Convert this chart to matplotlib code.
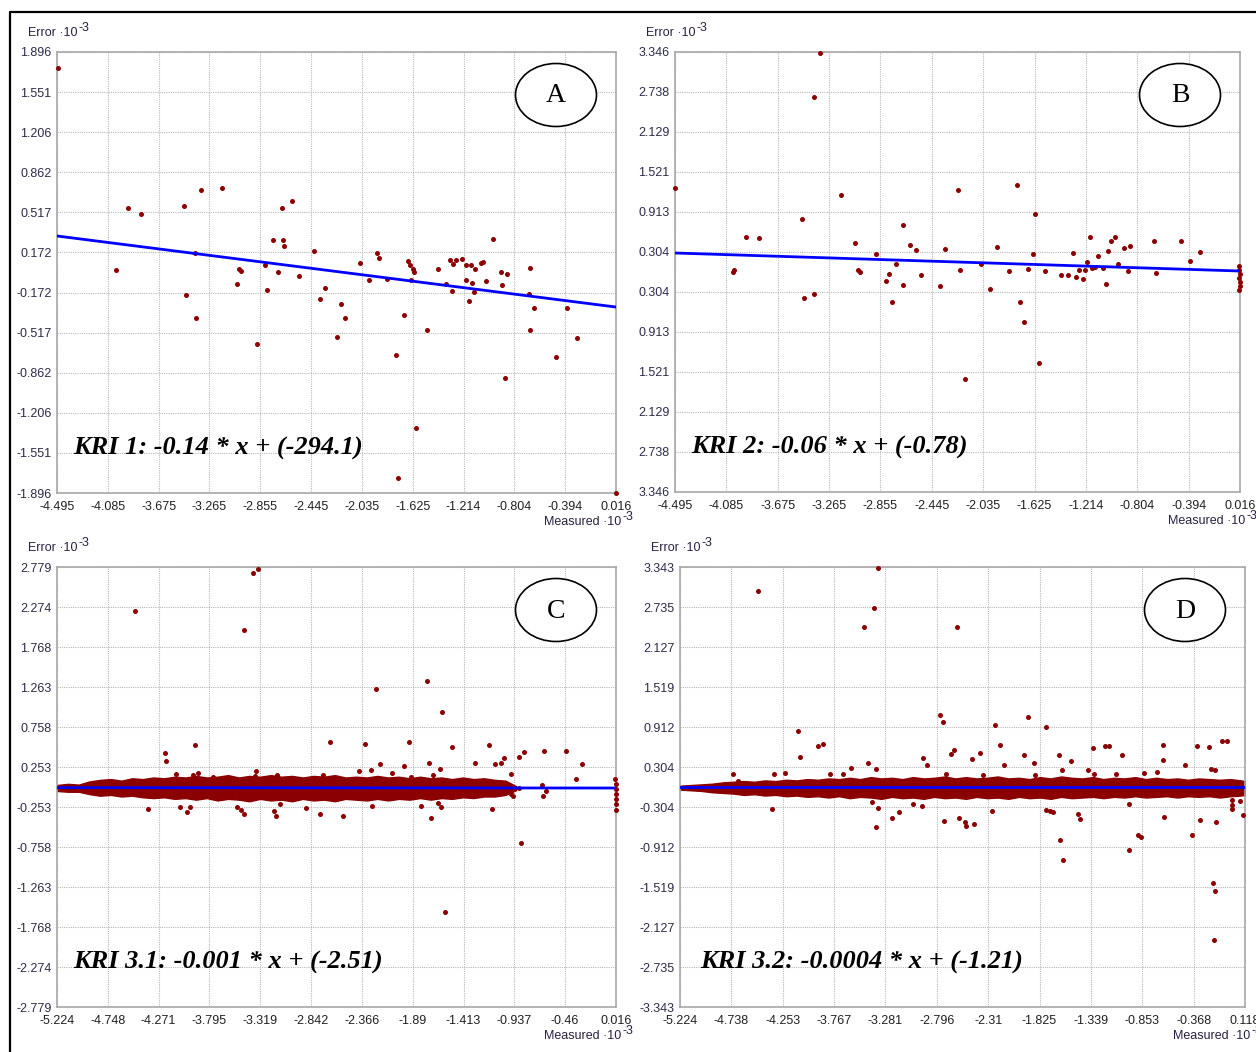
import numpy as np
import matplotlib.pyplot as plt
from matplotlib.patches import Ellipse
from matplotlib.lines import Line2D

W, H = 1256, 1052
DOT = '#8b0000'
BLUE = '#0000ff'

# ---------------- KRI 1 ----------------
a_x = [-4.487, -4.019, -3.922, -3.817, -3.470, -3.454, -3.381, -3.373, -3.333, -3.163,
       -3.042, -3.026, -3.010, -2.881, -2.817, -2.800, -2.752, -2.679, -2.671, -2.663,
       -2.599, -2.712, -2.542, -2.421, -2.332, -2.373, -2.203, -2.171, -2.235, -2.050,
       -1.977, -1.913, -1.897, -1.832, -1.759, -1.695, -1.662, -1.646, -1.622, -1.614,
       -1.638, -1.743, -1.598, -1.509, -1.420, -1.356, -1.323, -1.299, -1.275, -1.227,
       -1.194, -1.154, -1.122, -1.194, -1.146, -1.307, -1.130, -1.170, -1.073, -1.057,
       -1.033, -0.976, -0.912, -0.864, -0.904, -0.880, -0.678, -0.686, -0.646, -0.678,
       -0.468, -0.379, -0.299, 0.016]
a_y = [1.758, 0.021, 0.554, 0.503, 0.572, -0.194, 0.168, -0.391, 0.709, 0.726,
       -0.099, 0.030, 0.013, -0.615, 0.064, -0.151, 0.279, 0.554, 0.279, 0.228,
       0.615, 0.004, -0.030, 0.185, -0.133, -0.228, -0.271, -0.391, -0.555, 0.082,
       -0.065, 0.168, 0.125, -0.056, -0.709, -0.366, 0.099, 0.064, 0.030, 0.004,
       -0.065, -1.767, -1.337, -0.494, 0.030, -0.099, 0.107, 0.073, 0.107, 0.116,
       0.064, 0.064, 0.030, -0.065, -0.090, -0.159, -0.168, -0.245, 0.082, 0.090,
       -0.073, 0.288, 0.004, -0.013, -0.108, -0.907, 0.039, -0.185, -0.305, -0.495,
       -0.727, -0.305, -0.563, -1.896]
a_fit_x = [-4.495, 0.016]
a_fit_y = [0.314, -0.297]
a_xlabels = ['-4.495', '-4.085', '-3.675', '-3.265', '-2.855', '-2.445', '-2.035',
             '-1.625', '-1.214', '-0.804', '-0.394', '0.016']
a_ylabels = ['1.896', '1.551', '1.206', '0.862', '0.517', '0.172', '-0.172', '-0.517',
             '-0.862', '-1.206', '-1.551', '-1.896']

# ---------------- KRI 2 ----------------
b_x = [-4.495, -4.032, -4.024, -3.928, -3.824, -3.481, -3.465, -3.385, -3.385, -3.337,
       -3.170, -3.058, -3.034, -3.018, -2.890, -2.810, -2.787, -2.763, -2.731, -2.675,
       -2.675, -2.619, -2.571, -2.531, -2.379, -2.339, -2.236, -2.220, -2.180, -2.052,
       -1.980, -1.924, -1.828, -1.765, -1.741, -1.709, -1.677, -1.637, -1.621, -1.589,
       -1.541, -1.413, -1.357, -1.317, -1.293, -1.270, -1.238, -1.222, -1.206, -1.182,
       -1.166, -1.142, -1.118, -1.078, -1.054, -1.038, -1.014, -0.982, -0.958, -0.910,
       -0.878, -0.862, -0.671, -0.655, -0.455, -0.383, -0.303,
       0.008, 0.012, 0.016, 0.010, 0.014, 0.016, 0.012]
b_y = [1.277, 0.000, 0.030, 0.532, 0.517, 0.806, -0.396, -0.335, 2.662, 3.330,
       1.171, 0.441, 0.030, 0.000, 0.274, -0.137, -0.031, -0.457, 0.122, 0.715,
       -0.198, 0.411, 0.334, -0.046, -0.213, 0.350, 1.247, 0.030, -1.628, 0.122,
       -0.259, 0.380, 0.015, 1.323, -0.457, -0.761, 0.045, 0.274, 0.882, -1.384,
       0.015, -0.046, -0.046, 0.289, -0.076, 0.030, -0.107, 0.030, 0.152, 0.532,
       0.061, 0.076, 0.243, 0.061, -0.183, 0.319, 0.471, 0.532, 0.122, 0.365,
       0.015, 0.395, 0.471, -0.015, 0.471, 0.167, 0.304,
       0.091, 0.030, -0.031, -0.092, -0.152, -0.213, -0.274]
b_fit_x = [-4.495, 0.016]
b_fit_y = [0.289, 0.015]
b_xlabels = a_xlabels
b_ylabels = ['3.346', '2.738', '2.129', '1.521', '0.913', '0.304', '0.304', '0.913',
             '1.521', '2.129', '2.738', '3.346']

# ---------------- KRI 3.1 ----------------
c_x = [-4.493, -3.471, -3.387, -3.340, -3.930, -4.212, -4.202, -4.109, -3.902, -3.949,
       -3.762, -3.359, -3.368, -3.162, -2.731, -2.665, -2.337, -2.234, -1.924, -1.756,
       -1.615, -1.521, -1.174, -0.659, -0.453, -0.846, -0.893, -1.034, -1.118, -1.062,
       -1.306, -1.737, -2.196, -1.971, -2.281, -2.393, -1.634, -1.700, -1.906, -2.084,
       -0.968, -0.303, -0.359, -0.678, -0.668, -0.640, -0.893, -0.968, -0.950, -1.146,
       -1.718, -1.624, -1.653, -1.812, -2.271, -2.543, -2.759, -2.890, -3.171, -3.190,
       -3.134, -3.471, -3.499, -3.537, -4.005, -4.071, -3.977, -4.371, -1.587, -0.874,
       0.010, 0.016, 0.012, 0.016, 0.014, 0.016, 0.016]
c_y = [2.223, 1.983, 2.703, 2.760, 0.531, 0.429, 0.328, 0.164, 0.177, 0.152,
       0.126, 0.202, 0.139, 0.152, 0.152, 0.568, 0.543, 1.238, 0.568, 1.339,
       0.947, 0.505, 0.531, 0.455, 0.455, 0.442, 0.379, 0.366, 0.291, 0.303,
       0.303, 0.303, 0.291, 0.265, 0.215, 0.202, 0.227, 0.152, 0.126, 0.177,
       0.164, 0.291, 0.101, 0.025, -0.114, -0.051, -0.013, -0.088, -0.114, -0.278,
       -0.392, -0.253, -0.202, -0.240, -0.240, -0.366, -0.341, -0.265, -0.366, -0.303,
       -0.215, -0.341, -0.291, -0.253, -0.316, -0.253, -0.253, -0.278, -1.579, -0.707,
       0.101, 0.038, -0.025, -0.088, -0.152, -0.215, -0.291]
# outline of the dense mass of residuals around zero
c_band_x = [-5.224, -5.12, -5.02, -4.92, -4.82, -4.72, -4.62, -4.52, -4.42, -4.32,
            -4.22, -4.12, -4.02, -3.92, -3.82, -3.72, -3.62, -3.52, -3.42, -3.32,
            -3.22, -3.12, -3.02, -2.92, -2.82, -2.72, -2.62, -2.52, -2.42, -2.32,
            -2.22, -2.12, -2.02, -1.92, -1.82, -1.72, -1.62, -1.52, -1.42, -1.32,
            -1.22, -1.12, -1.02, -0.92]
c_band_hi = [0.025, 0.04, 0.03, 0.07, 0.09, 0.10, 0.08, 0.11, 0.10, 0.12,
             0.11, 0.13, 0.12, 0.14, 0.12, 0.13, 0.15, 0.12, 0.14, 0.13,
             0.15, 0.13, 0.14, 0.12, 0.14, 0.13, 0.15, 0.12, 0.13, 0.12,
             0.14, 0.12, 0.13, 0.11, 0.13, 0.11, 0.12, 0.10, 0.12, 0.10,
             0.11, 0.09, 0.08, 0.01]
c_band_lo = [-0.05, -0.06, -0.06, -0.09, -0.11, -0.10, -0.12, -0.11, -0.13, -0.14,
             -0.13, -0.15, -0.14, -0.16, -0.14, -0.17, -0.15, -0.16, -0.18, -0.15,
             -0.17, -0.16, -0.18, -0.15, -0.17, -0.16, -0.18, -0.15, -0.16, -0.17,
             -0.15, -0.17, -0.15, -0.16, -0.14, -0.16, -0.14, -0.15, -0.13, -0.14,
             -0.12, -0.12, -0.10, -0.04]
c_fit_x = [-5.224, 0.016]
c_fit_y = [-0.008, -0.013]
c_xlabels = ['-5.224', '-4.748', '-4.271', '-3.795', '-3.319', '-2.842', '-2.366',
             '-1.89', '-1.413', '-0.937', '-0.46', '0.016']
c_ylabels = ['2.779', '2.274', '1.768', '1.263', '0.758', '0.253', '-0.253', '-0.758',
             '-1.263', '-1.768', '-2.274', '-2.779']

# ---------------- KRI 3.2 ----------------
d_x = [-4.487, -4.108, -4.089, -3.919, -3.872, -3.484, -3.390, -3.352, -3.371, -2.766,
       -2.737, -2.605, -2.246, -2.198, -1.934, -1.763, -1.603, -1.366, -1.206, -0.979,
       -0.894, -0.657, -0.336, -0.100, -0.185, -0.166, -0.175,
       -4.354, -4.335, -4.723, -4.676, -4.231, -3.806, -3.683, -3.607, -3.447, -3.371,
       -3.352, -3.409, -3.220, -3.153, -3.021, -2.936, -2.927, -2.889, -2.728, -2.586,
       -2.529, -2.520, -2.444, -2.709, -2.662, -2.633, -2.463, -2.388, -2.359, -2.274,
       -2.161, -1.971, -1.877, -1.867, -1.763, -1.726, -1.697, -1.631, -1.641, -1.612,
       -1.527, -1.461, -1.442, -1.319, -1.310, -1.168, -1.045, -1.102, -0.979, -0.865,
       -0.837, -0.714, -0.657, -0.648, -0.449, -0.383, -0.308, -0.222, -0.203, -0.166,
       -0.156, -0.052, 0.071, 0.099, -0.005, -0.005, -0.004]
d_y = [2.978, 0.851, 0.456, 0.623, 0.653, 2.431, 2.720, 3.328, -0.608, 1.094,
       0.988, 2.431, 0.942, 0.638, 1.064, 0.912, -1.109, 0.258, 0.623, -0.957,
       -0.729, 0.638, 0.623, 0.699, -1.459, -1.580, -2.325,
       -0.334, 0.198, 0.198, 0.091, 0.213, 0.198, 0.198, 0.289, 0.365, 0.274,
       -0.319, -0.228, -0.471, -0.380, -0.258, -0.289, 0.441, 0.334, -0.517, -0.471,
       -0.532, -0.593, -0.562, 0.198, 0.501, 0.562, 0.425, 0.517, 0.182, -0.365,
       0.334, 0.486, 0.365, 0.182, -0.349, -0.365, -0.380, -0.805, 0.486, 0.258,
       0.395, -0.410, -0.486, 0.593, 0.198, 0.623, 0.486, 0.198, -0.258, -0.760,
       0.213, 0.228, 0.410, -0.456, 0.334, -0.729, -0.501, 0.608, 0.274, 0.258,
       -0.532, 0.699, -0.213, -0.425, -0.198, -0.274, -0.334]
d_band_x = [-5.224, -5.12, -5.02, -4.92, -4.82, -4.72, -4.62, -4.52, -4.42, -4.32,
            -4.22, -4.12, -4.02, -3.92, -3.82, -3.72, -3.62, -3.52, -3.42, -3.32,
            -3.22, -3.12, -3.02, -2.92, -2.82, -2.72, -2.62, -2.52, -2.42, -2.32,
            -2.22, -2.12, -2.02, -1.92, -1.82, -1.72, -1.62, -1.52, -1.42, -1.32,
            -1.22, -1.12, -1.02, -0.92, -0.82, -0.72, -0.62, -0.52, -0.42, -0.32,
            -0.22, -0.12, -0.02, 0.08, 0.118]
d_band_hi = [0.02, 0.03, 0.04, 0.05, 0.07, 0.08, 0.09, 0.08, 0.10, 0.09,
             0.11, 0.10, 0.12, 0.11, 0.13, 0.12, 0.14, 0.12, 0.15, 0.13,
             0.14, 0.12, 0.15, 0.13, 0.14, 0.16, 0.13, 0.15, 0.13, 0.14,
             0.16, 0.13, 0.14, 0.12, 0.15, 0.13, 0.16, 0.14, 0.13, 0.15,
             0.12, 0.14, 0.13, 0.15, 0.12, 0.14, 0.12, 0.13, 0.11, 0.13,
             0.12, 0.11, 0.12, 0.10, 0.09]
d_band_lo = [-0.04, -0.05, -0.06, -0.08, -0.09, -0.10, -0.12, -0.11, -0.13, -0.12,
             -0.14, -0.13, -0.15, -0.14, -0.16, -0.14, -0.17, -0.15, -0.16, -0.18,
             -0.15, -0.17, -0.16, -0.18, -0.15, -0.17, -0.16, -0.18, -0.15, -0.17,
             -0.16, -0.18, -0.15, -0.17, -0.16, -0.18, -0.15, -0.17, -0.16, -0.15,
             -0.17, -0.15, -0.16, -0.14, -0.16, -0.15, -0.14, -0.16, -0.14, -0.15,
             -0.14, -0.16, -0.14, -0.13, -0.12]
d_fit_x = [-5.224, 0.118]
d_fit_y = [-0.005, -0.005]
d_xlabels = ['-5.224', '-4.738', '-4.253', '-3.767', '-3.281', '-2.796', '-2.31',
             '-1.825', '-1.339', '-0.853', '-0.368', '0.118']
d_ylabels = ['3.343', '2.735', '2.127', '1.519', '0.912', '0.304', '-0.304', '-0.912',
             '-1.519', '-2.127', '-2.735', '-3.343']

equations = ['KRI 1: -0.14 * x + (-294.1)', 'KRI 2: -0.06 * x + (-0.78)',
             'KRI 3.1: -0.001 * x + (-2.51)', 'KRI 3.2: -0.0004 * x + (-1.21)']
letters = ['A', 'B', 'C', 'D']

plt.rcParams['font.family'] = ['Liberation Sans', 'DejaVu Sans']
fig = plt.figure(figsize=(W / 100, H / 100), dpi=100)
renderer = fig.canvas.get_renderer()
LABEL_C = '#2a2040'


def fx(px):
    return px / W


def fy(py):
    return 1 - py / H


def make_axes(l, t, r, b):
    return fig.add_axes([fx(l), fy(b), (r - l) / W, (b - t) / H])


def style(ax, xlabels, ylabels, top):
    x0, x1 = float(xlabels[0]), float(xlabels[-1])
    ax.set_xlim(x0, x1)
    ax.set_xticks(np.linspace(x0, x1, len(xlabels)))
    ax.set_xticklabels(xlabels)
    ax.set_ylim(-top, top)
    ax.set_yticks(np.linspace(top, -top, len(ylabels)))
    ax.set_yticklabels(ylabels)
    ax.grid(True, color='#b8b8b8', lw=0.8, ls=(0, (1, 1)))
    ax.set_axisbelow(True)
    ax.tick_params(length=0, labelsize=9, pad=4)
    ax.tick_params(axis='x', colors='#202020', pad=6)
    ax.tick_params(axis='y', colors='#2c2c48')
    for s in ax.spines.values():
        s.set_color('#a8a8a8')
        s.set_linewidth(1.2)


def caption(px, py, word, align):
    # "<word> ·10" followed by a raised "-3" exponent
    if align == 'left':
        t = fig.text(fx(px), fy(py), word + ' ·10', fontsize=9, color=LABEL_C,
                     va='center', ha='left')
        w = t.get_window_extent(renderer).width
        fig.text(fx(px + w + 1), fy(py - 5), '-3', fontsize=9, color=LABEL_C,
                 va='center', ha='left')
    else:
        e = fig.text(fx(px), fy(py - 5), '-3', fontsize=9, color=LABEL_C,
                     va='center', ha='right')
        w = e.get_window_extent(renderer).width
        fig.text(fx(px - w - 1), fy(py), word + ' ·10', fontsize=9, color=LABEL_C,
                 va='center', ha='right')


panels = [
    # (axes box, x, y, band, fit, xlabels, ylabels, top)
    ((57, 52, 616, 493), a_x, a_y, None, (a_fit_x, a_fit_y), a_xlabels, a_ylabels, 1.896),
    ((675, 52, 1240, 492), b_x, b_y, None, (b_fit_x, b_fit_y), b_xlabels, b_ylabels, 3.346),
    ((57, 567, 616, 1007), c_x, c_y, (c_band_x, c_band_lo, c_band_hi), (c_fit_x, c_fit_y),
     c_xlabels, c_ylabels, 2.779),
    ((680, 567, 1245, 1007), d_x, d_y, (d_band_x, d_band_lo, d_band_hi), (d_fit_x, d_fit_y),
     d_xlabels, d_ylabels, 3.343),
]

for i, (bx, xs, ys, band, fit, xl, yl, top) in enumerate(panels):
    l, t, r, b = bx
    ax = make_axes(l, t, r, b)
    style(ax, xl, yl, top)
    if band is not None:
        ax.fill_between(band[0], band[1], band[2], color=DOT, lw=1.0, ec=DOT, zorder=2)
    ax.plot(xs, ys, 'o', color=DOT, ms=3.6, mew=0, zorder=3, clip_on=False)
    ax.plot(fit[0], fit[1], color=BLUE, lw=2, zorder=4)

    # axis captions
    caption(l - 29, t - 19, 'Error', 'left')
    caption(r + 17, b + 29, 'Measured', 'right')

    # regression equation
    fig.text(fx(l + 16 + (4 if i == 3 else 0)), fy(b - 45), equations[i],
             family='Liberation Serif', weight='bold', style='italic', fontsize=19,
             va='center', ha='left', color='black')

    # panel letter
    cx, cy = r - 60, t + 43
    fig.add_artist(Ellipse((fx(cx), fy(cy)), 81 / W, 63 / H, transform=fig.transFigure,
                           facecolor='white', edgecolor='black', lw=1.2, zorder=5))
    fig.text(fx(cx), fy(cy + 1), letters[i], family='Liberation Serif', fontsize=20,
             ha='center', va='center', zorder=6)

# outer frame
fig.add_artist(Line2D([fx(10), fx(10), fx(W)], [fy(H), fy(12), fy(12)],
                      transform=fig.transFigure, color='black', lw=1.6))

fig.savefig('out.png', dpi=100)
